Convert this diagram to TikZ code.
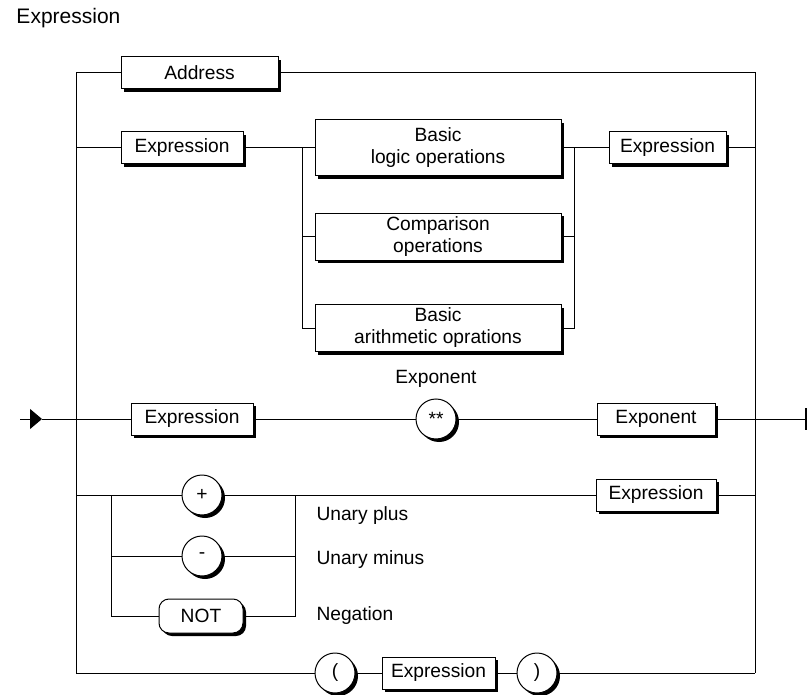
\documentclass[tikz,border=0pt]{standalone}
\usepackage{fontspec}
\setmainfont{Liberation Sans}
\usetikzlibrary{shadows,arrows.meta}

\begin{document}
\begin{tikzpicture}[
  x=0.5pt, y=-0.5pt,
  font=\fontsize{9.6}{11}\selectfont,
  line width=0.5pt,
  boxshadow/.style={drop shadow={shadow xshift=1.5pt, shadow yshift=-1.5pt, opacity=1, fill=black}},
  nterm/.style={rectangle, draw, fill=white, boxshadow, minimum height=16pt, inner sep=0pt},
  multi/.style={nterm, align=center, minimum width=123pt, minimum height=23.5pt},
  term/.style={circle, draw, fill=white, boxshadow, minimum size=20pt, inner sep=0pt},
  keyw/.style={rectangle, rounded corners=5pt, draw, fill=white, boxshadow, minimum width=42pt, minimum height=17pt, inner sep=0pt},
  note/.style={anchor=west, inner sep=0pt},
]
  \useasboundingbox (0,0) rectangle (808,695);

  \node[note, font=\fontsize{10.5}{12}\selectfont] (title) at (16,18) {Expression};

  \coordinate (in) at (20,419);
  \coordinate (tip) at (42,419);
  \coordinate (out) at (807,419);
  \coordinate (lt) at (76,73);
  \coordinate (lb) at (76,673);
  \coordinate (rt) at (755,73);
  \coordinate (rb) at (755,673);
  \coordinate (bl) at (302,148);
  \coordinate (br) at (574,148);
  \coordinate (il) at (111,495);
  \coordinate (ir) at (295,495);

  \node[nterm, minimum width=78.5pt] (addr) at (199.5,73) {Address};

  \node[nterm, minimum width=61pt] (expA) at (182,148) {Expression};
  \node[multi, minimum height=28pt] (logic) at (438,148) {Basic\\logic operations};
  \node[multi] (cmp) at (438,237) {Comparison\\operations};
  \node[multi] (arith) at (438,328) {Basic\\arithmetic oprations};
  \node[nterm, minimum width=58.5pt] (expB) at (667.5,148) {Expression};

  \node[nterm, minimum width=61pt] (expC) at (192,419) {Expression};
  \node[term] (pow) at (436,419) {**};
  \node[above=2pt] (powlbl) at (pow.north) {Exponent};
  \node[nterm, minimum width=59pt] (expo) at (656,419) {Exponent};

  \node[term] (plus) at (202,495) {+};
  \node[term] (minus) at (202,556) {-};
  \node[keyw] (notk) at (201,616) {NOT};
  \node[note] (lplus) at (316,516) {Unary plus};
  \node[note] (lminus) at (316,560) {Unary minus};
  \node[note] (lnot) at (316,616) {Negation};
  \node[nterm, minimum width=60pt] (expD) at (656,495) {Expression};

  \node[term] (lpar) at (335,673) {(};
  \node[nterm, minimum width=56.5pt] (expE) at (438.5,673) {Expression};
  \node[term] (rpar) at (537,673) {)};

  \draw[-{Triangle[length=6pt,width=10pt]}] (in) -- (tip);
  \draw (tip) -- (expC.west);
  \draw[-{Bar[width=11pt,line width=1pt]}] (expo.east) -- (out);

  \draw (lb) -- (lt) -- (addr.west);
  \draw (addr.east) -- (rt) -- (rb);

  \draw (expA.west -| lt) -- (expA.west);
  \draw (expA.east) -- (logic.west);
  \draw (bl) |- (arith.west);
  \draw (cmp.west -| bl) -- (cmp.west);
  \draw (logic.east) -- (expB.west);
  \draw (br) |- (arith.east);
  \draw (cmp.east) -- (cmp.east -| br);
  \draw (expB.east) -- (expB.east -| rt);

  \draw (expC.east) -- (pow.west);
  \draw (pow.east) -- (expo.west);

  \draw (plus.west -| lt) -- (plus.west);
  \draw (plus.east) -- (expD.west);
  \draw (il) |- (notk.west);
  \draw (minus.west -| il) -- (minus.west);
  \draw (ir) |- (notk.east);
  \draw (minus.east) -- (minus.east -| ir);
  \draw (expD.east) -- (expD.east -| rt);

  \draw (lb) -- (lpar.west);
  \draw (lpar.east) -- (expE.west);
  \draw (expE.east) -- (rpar.west);
  \draw (rpar.east) -- (rb);
\end{tikzpicture}
\end{document}
